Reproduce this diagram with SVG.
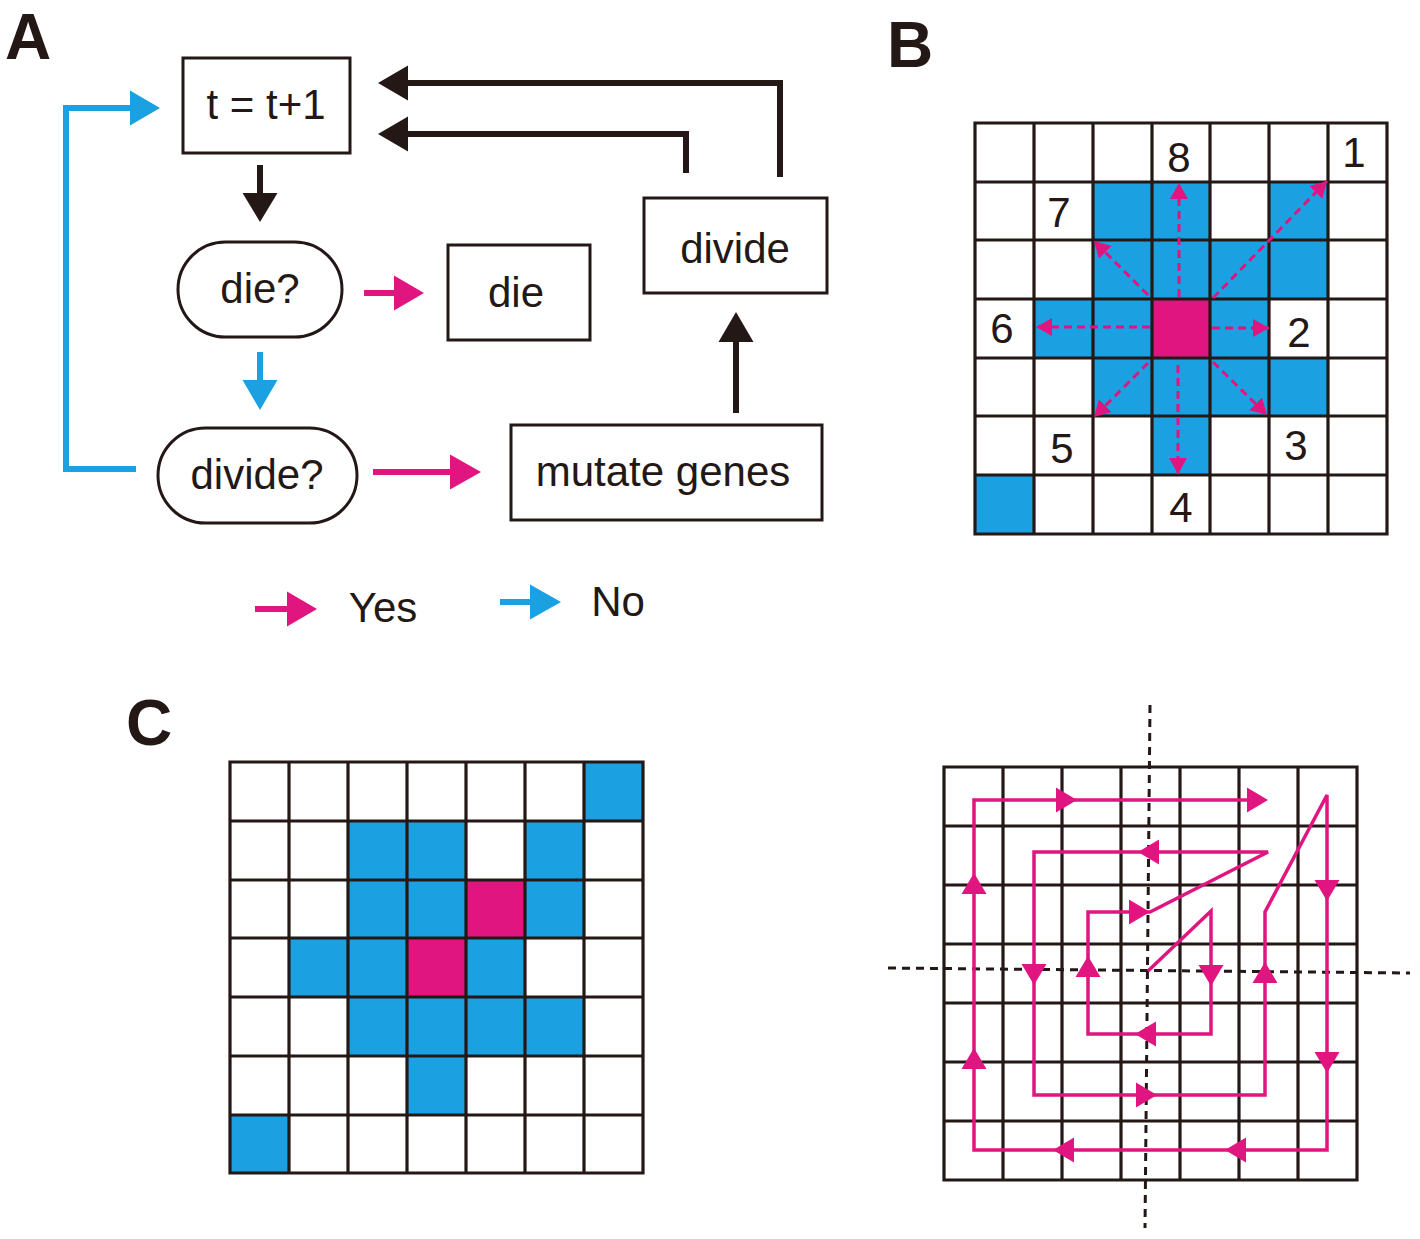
<svg xmlns="http://www.w3.org/2000/svg" xmlns:xlink="http://www.w3.org/1999/xlink" width="1420" height="1239" viewBox="0 0 1420 1239">
<style>
.lbl{font-family:"Liberation Sans",Arial,sans-serif;font-weight:bold;font-size:64px;fill:#231815}
.t{font-family:"Liberation Sans",Arial,sans-serif;font-size:42px;fill:#231815;text-anchor:middle}
.num{font-family:"Liberation Sans",Arial,sans-serif;font-size:42px;fill:#231815;text-anchor:middle}
.box{fill:#fff;stroke:#231815;stroke-width:3}
.blk{fill:none;stroke:#231815;stroke-width:6}
.blue{fill:none;stroke:#1ba1e2;stroke-width:6}
.pink{fill:none;stroke:#e0157f;stroke-width:6}
.grid{fill:none;stroke:#231815;stroke-width:3.2;stroke-linecap:square}
.cb{fill:#1ba1e2}
.cm{fill:#e0157f}
.dash{fill:none;stroke:#e0157f;stroke-width:3;stroke-dasharray:8 5}
.axis{fill:none;stroke:#231815;stroke-width:3;stroke-dasharray:8 6}
.spiral{fill:none;stroke:#e0157f;stroke-width:3.5;stroke-linejoin:miter}
</style>
<defs>
<marker id="dh" markerUnits="userSpaceOnUse" markerWidth="18" markerHeight="20" refX="16" refY="9" orient="auto">
<path d="M0,0 L16,9 L0,18 Z" fill="#e0157f"/>
</marker>
<path id="ah" d="M0,0 L-21,-12.5 L-21,12.5 Z" fill="#e0157f"/>
</defs>
<rect width="1420" height="1239" fill="#fff"/>

<text class="lbl" x="5" y="59">A</text>
<text class="lbl" x="887" y="67">B</text>
<text class="lbl" x="126" y="745">C</text>

<g id="connectors">
<path class="blk" d="M780,177 L780,83 L405,83"/>
<polygon points="378,83 408,65.5 408,100.5" fill="#231815"/>
<path class="blk" d="M686,173 L686,134 L405,134"/>
<polygon points="378,134 408,116.5 408,151.5" fill="#231815"/>
<path class="blk" d="M260,165 L260,196"/>
<polygon points="242.5,193 277.5,193 260,222" fill="#231815"/>
<path class="blk" d="M736,413 L736,339"/>
<polygon points="718.5,342 753.5,342 736,312" fill="#231815"/>
<path class="pink" d="M364,293 L397,293"/>
<polygon points="394,275.5 394,310.5 424,293" fill="#e0157f"/>
<path class="pink" d="M373,472 L453,472"/>
<polygon points="450,454.5 450,489.5 481,472" fill="#e0157f"/>
<path class="blue" d="M136,469 L66,469 L66,108 L133,108"/>
<polygon points="130,90.5 130,125.5 160,108" fill="#1ba1e2"/>
<path class="blue" d="M260,352 L260,383"/>
<polygon points="242.5,380 277.5,380 260,410" fill="#1ba1e2"/>
</g>

<g id="node-t">
<rect class="box" x="183" y="58" width="167" height="95"/>
<text class="t" x="266" y="119">t = t+1</text>
</g>
<g id="node-die-q">
<rect class="box" x="178" y="242" width="164" height="95" rx="47.5"/>
<text class="t" x="260" y="303">die?</text>
</g>
<g id="node-die">
<rect class="box" x="448" y="245" width="142" height="95"/>
<text class="t" x="516" y="307">die</text>
</g>
<g id="node-divide">
<rect class="box" x="644" y="198" width="183" height="95"/>
<text class="t" x="735" y="263">divide</text>
</g>
<g id="node-divide-q">
<rect class="box" x="158" y="428" width="199" height="95" rx="47.5"/>
<text class="t" x="257" y="489">divide?</text>
</g>
<g id="node-mutate">
<rect class="box" x="511" y="425" width="311" height="95"/>
<text class="t" x="663" y="486">mutate genes</text>
</g>

<g id="legend">
<path class="pink" d="M255,609 L290,609"/>
<polygon points="287,591.5 287,626.5 317,609" fill="#e0157f"/>
<text class="t" x="383" y="622">Yes</text>
<path class="blue" d="M500,602 L533,602"/>
<polygon points="530,584.5 530,619.5 561,602" fill="#1ba1e2"/>
<text class="t" x="618" y="616">No</text>
</g>

<g id="panel-B">
<rect class="cb" x="1093" y="182" width="117" height="58"/>
<rect class="cb" x="1269" y="182" width="59" height="58"/>
<rect class="cb" x="1093" y="240" width="235" height="59"/>
<rect class="cb" x="1034" y="299" width="235" height="59"/>
<rect class="cb" x="1093" y="358" width="235" height="58"/>
<rect class="cb" x="1152" y="416" width="58" height="59"/>
<rect class="cb" x="975" y="475" width="59" height="59"/>
<rect class="cm" x="1152" y="299" width="58" height="59"/>
<path class="grid" d="M975,123 V534 M1034,123 V534 M1093,123 V534 M1152,123 V534 M1210,123 V534 M1269,123 V534 M1328,123 V534 M1387,123 V534 M975,123 H1387 M975,182 H1387 M975,240 H1387 M975,299 H1387 M975,358 H1387 M975,416 H1387 M975,475 H1387 M975,534 H1387"/>
<g id="b-arrows">
<line class="dash" x1="1179" y1="297" x2="1179" y2="183" marker-end="url(#dh)"/>
<line class="dash" x1="1178" y1="365" x2="1178" y2="474" marker-end="url(#dh)"/>
<line class="dash" x1="1150" y1="327" x2="1036" y2="327" marker-end="url(#dh)"/>
<line class="dash" x1="1212" y1="328" x2="1269" y2="328" marker-end="url(#dh)"/>
<line class="dash" x1="1148" y1="295" x2="1094" y2="241" marker-end="url(#dh)"/>
<line class="dash" x1="1213" y1="298" x2="1327" y2="181" marker-end="url(#dh)"/>
<line class="dash" x1="1148" y1="363" x2="1094" y2="417" marker-end="url(#dh)"/>
<line class="dash" x1="1213" y1="362" x2="1267" y2="415" marker-end="url(#dh)"/>
</g>
<text class="num" x="1179" y="172">8</text>
<text class="num" x="1354" y="167">1</text>
<text class="num" x="1059" y="227">7</text>
<text class="num" x="1002" y="343">6</text>
<text class="num" x="1299" y="347">2</text>
<text class="num" x="1062" y="463">5</text>
<text class="num" x="1296" y="460">3</text>
<text class="num" x="1181" y="522">4</text>
</g>

<g id="panel-C-left">
<rect class="cb" x="584" y="762" width="59" height="59"/>
<rect class="cb" x="348" y="821" width="118" height="59"/>
<rect class="cb" x="525" y="821" width="59" height="59"/>
<rect class="cb" x="348" y="880" width="118" height="58"/>
<rect class="cm" x="466" y="880" width="59" height="58"/>
<rect class="cb" x="525" y="880" width="59" height="58"/>
<rect class="cb" x="289" y="938" width="118" height="59"/>
<rect class="cm" x="407" y="938" width="59" height="59"/>
<rect class="cb" x="466" y="938" width="59" height="59"/>
<rect class="cb" x="348" y="997" width="236" height="59"/>
<rect class="cb" x="407" y="1056" width="59" height="59"/>
<rect class="cb" x="230" y="1115" width="59" height="58"/>
<path class="grid" d="M230,762 V1173 M289,762 V1173 M348,762 V1173 M407,762 V1173 M466,762 V1173 M525,762 V1173 M584,762 V1173 M643,762 V1173 M230,762 H643 M230,821 H643 M230,880 H643 M230,938 H643 M230,997 H643 M230,1056 H643 M230,1115 H643 M230,1173 H643"/>
</g>

<g id="panel-C-right">
<path class="grid" d="M944,767 V1180 M1003,767 V1180 M1062,767 V1180 M1121,767 V1180 M1180,767 V1180 M1239,767 V1180 M1298,767 V1180 M1357,767 V1180 M944,767 H1357 M944,826 H1357 M944,885 H1357 M944,944 H1357 M944,1003 H1357 M944,1062 H1357 M944,1121 H1357 M944,1180 H1357"/>
<line class="axis" x1="1150" y1="705" x2="1145" y2="1228"/>
<line class="axis" x1="888" y1="968" x2="1410" y2="973"/>
<path class="spiral" d="M1148,971 L1211,911 L1211,1034 L1088,1034 L1088,912 L1150,912 L1268,852 L1034,852 L1034,1095 L1265,1095 L1265,912 L1327,795 L1327,1150 L974,1150 L974,800 L1258,800"/>
<use xlink:href="#ah" transform="translate(1211,986) rotate(90)"/>
<use xlink:href="#ah" transform="translate(1135,1034) rotate(180)"/>
<use xlink:href="#ah" transform="translate(1088,956) rotate(-90)"/>
<use xlink:href="#ah" transform="translate(1150,912)"/>
<use xlink:href="#ah" transform="translate(1138,852) rotate(180)"/>
<use xlink:href="#ah" transform="translate(1034,985) rotate(90)"/>
<use xlink:href="#ah" transform="translate(1157,1095)"/>
<use xlink:href="#ah" transform="translate(1265,962) rotate(-90)"/>
<use xlink:href="#ah" transform="translate(1327,901) rotate(90)"/>
<use xlink:href="#ah" transform="translate(1327,1073) rotate(90)"/>
<use xlink:href="#ah" transform="translate(1225,1150) rotate(180)"/>
<use xlink:href="#ah" transform="translate(1053,1150) rotate(180)"/>
<use xlink:href="#ah" transform="translate(974,1048) rotate(-90)"/>
<use xlink:href="#ah" transform="translate(974,873) rotate(-90)"/>
<use xlink:href="#ah" transform="translate(1077,800)"/>
<use xlink:href="#ah" transform="translate(1268,800)"/>
</g>
</svg>
